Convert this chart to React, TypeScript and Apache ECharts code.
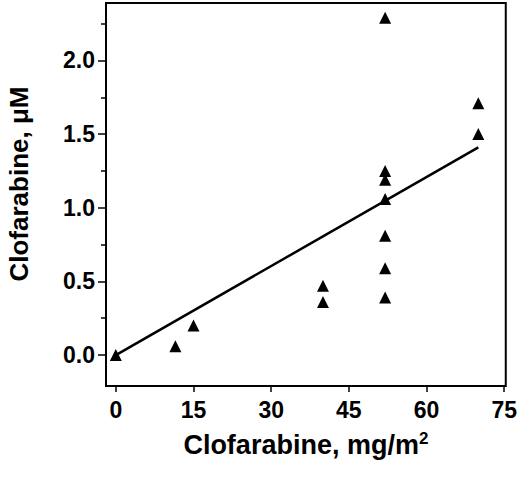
import { useEffect, useRef } from "react";
import * as echarts from "echarts";

// dose (mg/m2) and plasma clofarabine (uM)
const doseX = [0, 11.5, 15, 40, 40, 52, 52, 52, 52, 52, 52, 52, 70, 70];
const concY = [0, 0.06, 0.2, 0.47, 0.36, 0.39, 0.59, 0.81, 1.06, 1.19, 1.25, 2.29, 1.5, 1.71];

// regression line end points
const fitX = [0, 70];
const fitY = [0, 1.41];

const xTicks = [0, 15, 30, 45, 60, 75];
const yTicks = [0, 0.5, 1.0, 1.5, 2.0];
const yMinorTicks = [0.25, 0.75, 1.25, 1.75, 2.25];

const FONT = "'Liberation Sans', Arial, Helvetica, sans-serif";

const App = () => {
  const ref = useRef<HTMLDivElement | null>(null);

  useEffect(() => {
    document.body.style.margin = "0";
    if (!ref.current) return;
    const chart = echarts.init(ref.current, null, { renderer: "svg" });

    const tickLabel = {
      color: "#000",
      fontFamily: FONT,
      fontWeight: "bold" as const,
      fontSize: 23,
    };

    chart.setOption({
      animation: false,
      backgroundColor: "#fff",
      grid: {
        left: 106,
        right: 14,
        top: 3,
        bottom: 94,
        show: true,
        borderColor: "#000",
        borderWidth: 2,
      },
      xAxis: {
        type: "value",
        min: -1.9,
        max: 75.3,
        axisLine: { show: false, onZero: false },
        splitLine: { show: false },
        axisTick: {
          show: true,
          inside: false,
          length: 6,
          lineStyle: { color: "#000", width: 1.5 },
          customValues: xTicks,
        },
        axisLabel: {
          ...tickLabel,
          margin: 12,
          customValues: xTicks,
          formatter: (v: number) => String(v),
        },
        name: "Clofarabine, mg/m{sup|2}",
        nameLocation: "middle",
        nameGap: 44,
        nameTextStyle: {
          color: "#000",
          fontFamily: FONT,
          fontWeight: "bold",
          fontSize: 27,
          rich: {
            sup: {
              color: "#000",
              fontFamily: FONT,
              fontWeight: "bold",
              fontSize: 17,
              verticalAlign: "top",
              padding: [0, 0, 12, 0],
            },
          },
        },
      },
      yAxis: [
        {
          type: "value",
          min: -0.21,
          max: 2.39,
          axisLine: { show: false, onZero: false },
          splitLine: { show: false },
          axisTick: {
            show: true,
            inside: false,
            length: 8,
            lineStyle: { color: "#000", width: 1.5 },
            customValues: yTicks,
          },
          axisLabel: {
            ...tickLabel,
            margin: 11,
            customValues: yTicks,
            formatter: (v: number) => v.toFixed(1),
          },
        },
        {
          type: "value",
          position: "left",
          offset: 0,
          min: -0.21,
          max: 2.39,
          axisLine: { show: false, onZero: false },
          splitLine: { show: false },
          axisLabel: { show: false },
          axisTick: {
            show: true,
            inside: false,
            length: 5,
            lineStyle: { color: "#000", width: 1.5 },
            customValues: yMinorTicks,
          },
        },
      ],
      graphic: [
        {
          type: "text",
          x: 19,
          y: 184,
          rotation: Math.PI / 2,
          style: {
            text: "Clofarabine, μM",
            fill: "#000",
            font: `bold 26px ${FONT}`,
            align: "center",
            verticalAlign: "middle",
          },
        },
      ],
      series: [
        {
          type: "line",
          data: fitX.map((x, i) => [x, fitY[i]]),
          showSymbol: false,
          lineStyle: { color: "#000", width: 2.5 },
          silent: true,
        },
        {
          type: "scatter",
          data: doseX.map((x, i) => [x, concY[i]]),
          symbol: "triangle",
          symbolSize: 12,
          itemStyle: { color: "#000", opacity: 1 },
        },
      ],
    });

    return () => {
      chart.dispose();
    };
  }, []);

  return <div ref={ref} style={{ width: 520, height: 480 }} />;
};

export default App;
